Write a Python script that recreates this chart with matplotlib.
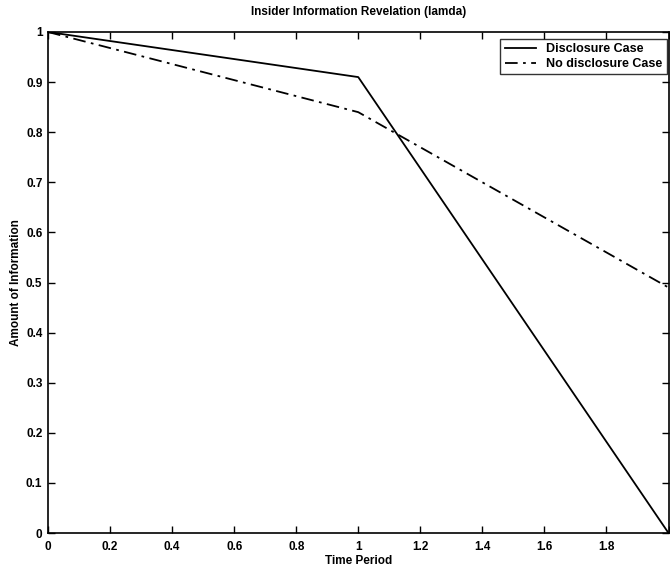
import matplotlib
matplotlib.use("Agg")
import matplotlib.pyplot as plt

plt.rcParams['font.family'] = ['Liberation Sans', 'DejaVu Sans']

time = [0, 1, 2]
disclosure = [1.0, 0.91, 0.0]
no_disclosure = [1.0, 0.84, 0.49]
xticks = [0, 0.2, 0.4, 0.6, 0.8, 1, 1.2, 1.4, 1.6, 1.8, 2]
xticklabels = ['0', '0.2', '0.4', '0.6', '0.8', '1', '1.2', '1.4', '1.6', '1.8', '']
yticks = [0, 0.1, 0.2, 0.3, 0.4, 0.5, 0.6, 0.7, 0.8, 0.9, 1]
yticklabels = ['0', '0.1', '0.2', '0.3', '0.4', '0.5', '0.6', '0.7', '0.8', '0.9', '1']

fig = plt.figure(figsize=(6.70, 5.72), dpi=100)
ax = fig.add_axes([48/670, 1-533/572, 1-48/670-1.5/670, (533-32)/572])

ax.plot(time, disclosure, color='black', lw=1.3, label='Disclosure Case')
ax.plot(time, no_disclosure, color='black', lw=1.3, linestyle=(0, (7, 3, 1.5, 3)),
        label='No disclosure Case')

ax.set_xlim(0, 2)
ax.set_ylim(0, 1)
ax.set_xticks(xticks)
ax.set_xticklabels(xticklabels, fontsize=8.5, fontweight='bold')
ax.set_yticks(yticks)
ax.set_yticklabels(yticklabels, fontsize=8.5, fontweight='bold')
ax.tick_params(direction='in', top=True, right=True, length=5, width=1)
ax.tick_params(axis='x', pad=6)
ax.tick_params(axis='y', pad=4)
for s in ax.spines.values():
    s.set_linewidth(1.2)

ax.set_title('Insider Information Revelation (lamda)', fontsize=8.5, fontweight='bold', pad=12)
ax.set_xlabel('Time Period', fontsize=8.5, fontweight='bold', labelpad=1)
ax.set_ylabel('Amount of Information', fontsize=8.5, fontweight='bold', labelpad=3)

leg = ax.legend(loc='upper right', bbox_to_anchor=(0.997, 0.986), frameon=True,
                fancybox=False, edgecolor='black', borderaxespad=0, handlelength=2.5,
                borderpad=0.35, labelspacing=0.2, prop={'weight': 'bold', 'size': 9})
leg.get_frame().set_linewidth(1.0)

fig.savefig('out.png', dpi=100)
